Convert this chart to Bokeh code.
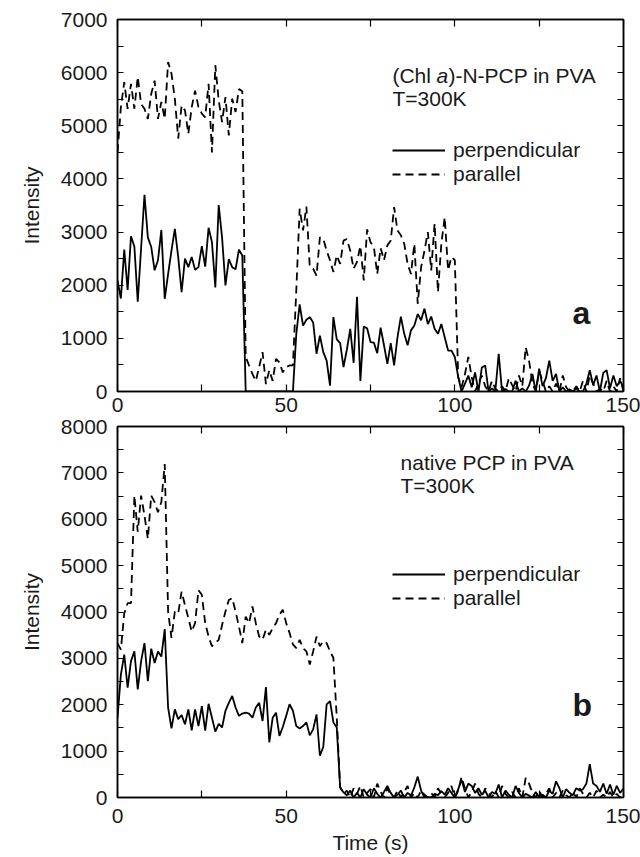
from bokeh.plotting import figure
from bokeh.models import (Range1d, LinearAxis, FixedTicker, Label, Legend,
                          LegendItem, CustomJSTickFormatter)
from bokeh.layouts import column
from bokeh.embed import file_html
from bokeh.resources import INLINE

# ---------------- data ----------------
time_s = list(range(0, 151))

perp_a = [2090, 1750, 2670, 1910, 2920, 2730, 1690, 2700, 3700, 2900,
          2720, 2280, 2470, 3040, 1745, 2210, 2650, 3060, 2530, 1870,
          2500, 2340, 2530, 2290, 2340, 2735, 2350, 3080, 2810, 1960,
          3510, 2900, 1995, 2490, 2340, 2300, 2670, 2560, 0, 0,
          0, 0, 0, 0, 0, 0, 0, 0, 0, 0,
          0, 0, 0, 1085, 1640, 1240, 1350, 1400, 1300, 710,
          1050, 740, 580, 110, 1400, 980, 910, 460, 790, 1180,
          540, 1780, 200, 1220, 1190, 930, 920, 720, 1200, 870,
          520, 910, 490, 1020, 1410, 1085, 870, 1150, 1240, 1460,
          1340, 1560, 1270, 1410, 1180, 1085, 1270, 1020, 770, 770,
          650, 270, 0, 150, 300, 80, 360, 0, 450, 490,
          0, 60, 0, 710, 0, 50, 0, 0, 200, 0,
          60, 0, 110, 330, 0, 430, 100, 250, 580, 200,
          330, 0, 80, 0, 40, 0, 60, 0, 0, 150,
          400, 120, 300, 0, 350, 400, 60, 300, 100, 200,
          80]

par_a = [4500, 5350, 5820, 5320, 5790, 5320, 5920, 5410, 5320, 5130,
         5600, 5850, 5130, 5450, 5130, 6200, 5980, 5510, 4760, 5380,
         5290, 4850, 5350, 5660, 5350, 5230, 5160, 5790, 4500, 6140,
         5480, 5070, 5540, 4820, 5510, 5260, 5690, 5650, 650, 490,
         330, 200, 460, 740, 140, 400, 200, 615, 550, 360,
         460, 490, 490, 1900, 3440, 3030, 3480, 2350, 2310, 2180,
         2900, 2870, 2650, 2470, 2250, 2560, 2400, 2840, 2870, 2650,
         2310, 2440, 2740, 2090, 3050, 2810, 2720, 2210, 2700, 2470,
         2750, 2840, 3470, 3030, 2940, 2780, 2400, 2210, 2780, 1650,
         2340, 2650, 3000, 2280, 3160, 1870, 2780, 3280, 2280, 2530,
         2470, 270, 80, 330, 650, 270, 0, 150, 300, 100,
         0, 200, 50, 0, 100, 0, 250, 120, 0, 300,
         100, 830, 580, 150, 0, 380, 200, 0, 100, 0,
         150, 0, 300, 80, 0, 0, 100, 0, 200, 0,
         300, 150, 0, 50, 0, 200, 0, 100, 0, 250,
         0]

perp_b = [1720, 2650, 3080, 2370, 2940, 3150, 2330, 2940, 3330, 2510,
          3210, 2900, 3150, 3040, 3630, 1940, 1490, 1900, 1690, 1780,
          1580, 1900, 1450, 1900, 1540, 1970, 1440, 2020, 1720, 1420,
          1590, 1510, 1870, 2040, 2190, 1940, 1760, 1810, 1830, 1810,
          1720, 1940, 2040, 1650, 2380, 1190, 1720, 1830, 1330, 1520,
          1760, 2010, 1870, 1540, 1490, 1540, 1620, 1340, 1470, 1790,
          900, 1090, 2010, 2080, 1620, 1510, 220, 110, 50, 150,
          0, 100, 0, 180, 60, 0, 200, 80, 0, 120,
          250, 100, 0, 60, 150, 0, 100, 40, 220, 450,
          150, 0, 0, 0, 80, 50, 140, 60, 200, 100,
          0, 180, 380, 120, 300, 250, 100, 200, 60, 150,
          0, 120, 80, 280, 0, 150, 60, 0, 250, 100,
          0, 80, 40, 0, 120, 0, 60, 0, 150, 80,
          350, 200, 0, 180, 100, 50, 200, 150, 180, 300,
          720, 300, 250, 120, 300, 80, 280, 60, 250, 100,
          200]

par_b = [3330, 3190, 3970, 4190, 4190, 6510, 5730, 6510, 6080, 5580,
         6510, 6370, 6150, 6370, 7190, 4010, 3440, 4010, 3970, 4440,
         4150, 3870, 3580, 3760, 4470, 4370, 3760, 3470, 3260, 3330,
         3400, 3720, 4010, 4260, 4300, 4010, 3690, 3330, 3900, 3760,
         4120, 3760, 3470, 3400, 3620, 3510, 3650, 3760, 3940, 4050,
         3760, 3550, 3300, 3220, 3400, 3220, 3150, 2870, 3150, 3470,
         3260, 3370, 3330, 3150, 3010, 1720, 220, 80, 150, 0,
         200, 80, 250, 0, 100, 180, 0, 300, 120, 0,
         200, 60, 0, 150, 0, 120, 250, 0, 100, 0,
         150, 60, 0, 100, 0, 200, 80, 0, 100, 250,
         0, 150, 440, 200, 0, 120, 300, 80, 0, 200,
         100, 0, 150, 0, 250, 80, 0, 120, 0, 200,
         0, 420, 300, 100, 0, 150, 0, 80, 200, 0,
         100, 0, 150, 50, 0, 120, 0, 200, 80, 0,
         100, 0, 150, 0, 60, 0, 120, 0, 80, 0,
         100]

x_major = [0, 50, 100, 150]
x_minor = [25, 75, 125]
y_major_a = [0, 1000, 2000, 3000, 4000, 5000, 6000, 7000]
y_minor_a = [500, 1500, 2500, 3500, 4500, 5500, 6500]
y_major_b = [0, 1000, 2000, 3000, 4000, 5000, 6000, 7000, 8000]
y_minor_b = [500, 1500, 2500, 3500, 4500, 5500, 6500, 7500]

FONT = "Liberation Sans"
TICK_FS = "21px"
LABEL_FS = "21px"
TEXT_FS = "21px"
INK = "#1a1a1a"


def blank_axis(ticker, tick_len):
    return LinearAxis(ticker=ticker,
                      formatter=CustomJSTickFormatter(code="return ''"),
                      major_tick_in=tick_len, major_tick_out=0,
                      minor_tick_in=tick_len, minor_tick_out=0,
                      major_label_standoff=0,
                      major_label_text_font_size="1px",
                      axis_line_color="black", axis_line_width=1.5,
                      major_tick_line_width=1.2, minor_tick_line_width=1.2)


def make_panel(height, ymax, ymaj, ymin, top, bottom, pa, pb,
               xstand, xlabel):
    p = figure(width=640, height=height,
               x_range=Range1d(0, 150), y_range=Range1d(0, ymax),
               output_backend="svg", toolbar_location=None,
               min_border_left=117, min_border_right=17,
               min_border_top=top, min_border_bottom=bottom)
    p.grid.visible = False
    p.outline_line_color = "black"
    p.outline_line_width = 1.5

    xa = p.xaxis[0]
    xa.ticker = FixedTicker(ticks=x_major, minor_ticks=x_minor)
    xa.major_tick_in = 7
    xa.major_tick_out = 0
    xa.minor_tick_in = 7
    xa.minor_tick_out = 0
    xa.major_label_text_font = FONT
    xa.major_label_text_font_size = TICK_FS
    xa.major_label_text_color = INK
    xa.major_label_standoff = xstand
    xa.axis_line_width = 1.5
    xa.major_tick_line_width = 1.2
    xa.minor_tick_line_width = 1.2
    if xlabel:
        xa.axis_label = xlabel
        xa.axis_label_text_font = FONT
        xa.axis_label_text_font_size = LABEL_FS
        xa.axis_label_text_font_style = "normal"
        xa.axis_label_text_color = INK
        xa.axis_label_standoff = 5

    ya = p.yaxis[0]
    ya.ticker = FixedTicker(ticks=ymaj, minor_ticks=ymin)
    ya.major_tick_in = 6
    ya.major_tick_out = 0
    ya.minor_tick_in = 6
    ya.minor_tick_out = 0
    ya.major_label_text_font = FONT
    ya.major_label_text_font_size = TICK_FS
    ya.major_label_text_color = INK
    ya.major_label_standoff = 10
    ya.axis_line_width = 1.5
    ya.major_tick_line_width = 1.2
    ya.minor_tick_line_width = 1.2
    ya.axis_label = "Intensity"
    ya.axis_label_text_font = FONT
    ya.axis_label_text_font_size = LABEL_FS
    ya.axis_label_text_font_style = "normal"
    ya.axis_label_text_color = INK
    ya.axis_label_standoff = 15

    p.add_layout(blank_axis(FixedTicker(ticks=x_major, minor_ticks=x_minor), 7), "above")
    p.add_layout(blank_axis(FixedTicker(ticks=ymaj, minor_ticks=ymin), 6), "right")

    r1 = p.line(time_s, pa, line_color="black", line_width=1.8)
    r2 = p.line(time_s, pb, line_color="black", line_width=1.8, line_dash="8 5")
    return p, r1, r2


def add_legend(p, r1, r2, loc):
    leg = Legend(items=[LegendItem(label="perpendicular", renderers=[r1]),
                        LegendItem(label="parallel", renderers=[r2])],
                 location=loc, border_line_color=None,
                 background_fill_alpha=0,
                 label_text_font=FONT, label_text_font_size=TEXT_FS,
                 label_text_color=INK,
                 glyph_width=53, glyph_height=20, label_height=20,
                 label_standoff=8, spacing=-2, padding=0, margin=0)
    p.add_layout(leg)


def add_text(p, x, y, text, style="normal"):
    p.add_layout(Label(x=x, y=y, text=text, text_font=FONT,
                       text_font_size=TEXT_FS, text_font_style=style,
                       text_color=INK,
                       text_align="left", text_baseline="middle"))


def add_letter(p, x, y, text):
    p.add_layout(Label(x=x, y=y, text=text, text_font=FONT,
                       text_font_size="32px", text_font_style="bold",
                       text_color=INK,
                       text_align="center", text_baseline="middle"))


# ---------------- top panel (a) ----------------
p1, a1, a2 = make_panel(416, 7000, y_major_a, y_minor_a, 19, 25,
                        perp_a, par_a, 6, None)
add_text(p1, 81.5, 5940, "(Chl ")
add_text(p1, 94.6, 5940, "a", style="italic")
add_text(p1, 98.1, 5940, ")-N-PCP in PVA")
add_text(p1, 81.5, 5520, "T=300K")
add_legend(p1, a1, a2, (275, 205))
add_letter(p1, 137.5, 1470, "a")

# ---------------- bottom panel (b) ----------------
p2, b1, b2 = make_panel(440, 8000, y_major_b, y_minor_b, 10, 59,
                        perp_b, par_b, 11, "Time (s)")
add_text(p2, 83.9, 7225, "native PCP in PVA")
add_text(p2, 83.9, 6735, "T=300K")
add_legend(p2, b1, b2, (275, 187))
add_letter(p2, 137.8, 2000, "b")

layout = column(p1, p2, spacing=0)
open("out.html", "w").write(file_html(layout, INLINE))
